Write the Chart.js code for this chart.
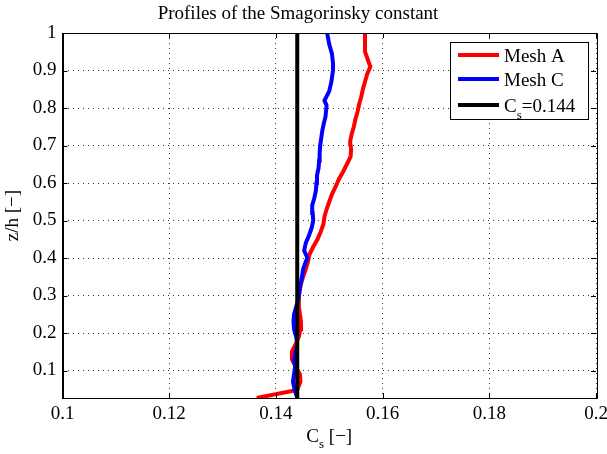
<!DOCTYPE html>
<html>
<head>
<meta charset="utf-8">
<script src="https://cdn.jsdelivr.net/npm/chart.js@4/dist/chart.umd.min.js"></script>
<style>
  html, body { margin: 0; padding: 0; background: #fff; }
  canvas { display: block; }
</style>
</head>
<body>
<canvas id="c" width="607" height="454"></canvas>
<script>
// ---- data ----
const zA = [0.027, 0.048, 0.07, 0.09, 0.11, 0.13, 0.15, 0.17, 0.19, 0.21, 0.23, 0.25, 0.27, 0.29, 0.31, 0.33, 0.35, 0.37, 0.39, 0.41, 0.43, 0.45, 0.47, 0.49, 0.51, 0.53, 0.55, 0.57, 0.59, 0.61, 0.63, 0.65, 0.67, 0.69, 0.71, 0.73, 0.75, 0.77, 0.79, 0.81, 0.83, 0.85, 0.87, 0.89, 0.91, 0.93, 0.95, 0.97, 1.0];
const csA = [0.1364, 0.1440, 0.1446, 0.1445, 0.1437, 0.1430, 0.1430, 0.1437, 0.1443, 0.1446, 0.1447, 0.1445, 0.1443, 0.1443, 0.1444, 0.1447, 0.1451, 0.1456, 0.1460, 0.1463, 0.1470, 0.1478, 0.1484, 0.1489, 0.1491, 0.1495, 0.1500, 0.1505, 0.1512, 0.1518, 0.1526, 0.1533, 0.1540, 0.1541, 0.1539, 0.1542, 0.1546, 0.1549, 0.1553, 0.1556, 0.1560, 0.1563, 0.1567, 0.1571, 0.1577, 0.1572, 0.1567, 0.1567, 0.1567];
const zC = [0.027, 0.05, 0.07, 0.09, 0.11, 0.13, 0.15, 0.17, 0.19, 0.21, 0.23, 0.25, 0.27, 0.29, 0.31, 0.33, 0.35, 0.37, 0.39, 0.40, 0.42, 0.44, 0.46, 0.48, 0.50, 0.52, 0.54, 0.56, 0.58, 0.60, 0.62, 0.64, 0.66, 0.68, 0.70, 0.72, 0.74, 0.76, 0.777, 0.807, 0.82, 0.845, 0.87, 0.90, 0.92, 0.945, 0.97, 1.0];
const csC = [0.1440, 0.1435, 0.1432, 0.1434, 0.1436, 0.1434, 0.1437, 0.1440, 0.1438, 0.1434, 0.1433, 0.1434, 0.1438, 0.1442, 0.1444, 0.1446, 0.1449, 0.1451, 0.1456, 0.1459, 0.1453, 0.1456, 0.1462, 0.1467, 0.1470, 0.1469, 0.1468, 0.1472, 0.1475, 0.1476, 0.1477, 0.1480, 0.1481, 0.1482, 0.1483, 0.1485, 0.1487, 0.1490, 0.1493, 0.1495, 0.1491, 0.1500, 0.1504, 0.1507, 0.1507, 0.1505, 0.1500, 0.1496];
const csRef = 0.144;
const zRefEnds = [0.0267, 1.0];
const xTicks = [0.1, 0.12, 0.14, 0.16, 0.18, 0.2];
const yTicks = [0.1, 0.2, 0.3, 0.4, 0.5, 0.6, 0.7, 0.8, 0.9, 1.0];
const xRange = [0.1, 0.2];
const yRange = [0.0267, 1.0];
const seriesNames = ['Mesh A', 'Mesh C'];
const refName = ['C', 's', '=0.144'];
const titleText = 'Profiles of the Smagorinsky constant';
const yTitle = 'z/h [\u2212]';
const xTitle = ['C', 's', ' [\u2212]'];

const FONT = '"Liberation Serif", "Times New Roman", serif';

const frame = {
  id: 'frame',
  afterDraw(chart) {
    const ctx = chart.ctx;
    const a = chart.chartArea;
    const xs = chart.scales.x, ys = chart.scales.y;
    ctx.save();
    // box
    ctx.strokeStyle = '#000';
    ctx.lineWidth = 1;
    ctx.beginPath();
    ctx.rect(Math.round(a.left) + 0.5, Math.round(a.top) + 0.5, Math.round(a.right - a.left), Math.round(a.bottom - a.top));
    ctx.stroke();
    // inward ticks
    const tl = 5;
    ctx.beginPath();
    xTicks.forEach(v => {
      const px = Math.round(xs.getPixelForValue(v)) + 0.5;
      ctx.moveTo(px, a.bottom); ctx.lineTo(px, a.bottom - tl);
      ctx.moveTo(px, a.top); ctx.lineTo(px, a.top + tl);
    });
    yTicks.forEach(v => {
      const py = Math.round(ys.getPixelForValue(v)) + 0.5;
      ctx.moveTo(a.left, py); ctx.lineTo(a.left + tl, py);
      ctx.moveTo(a.right, py); ctx.lineTo(a.right - tl, py);
    });
    ctx.stroke();

    // x-axis title with subscript
    ctx.fillStyle = '#000';
    ctx.textBaseline = 'alphabetic';
    const big = '19px ' + FONT, small = '13px ' + FONT;
    ctx.font = big; const w1 = ctx.measureText(xTitle[0]).width;
    ctx.font = small; const w2 = ctx.measureText(xTitle[1]).width;
    ctx.font = big; const w3 = ctx.measureText(xTitle[2]).width;
    let x0 = (a.left + a.right) / 2 - (w1 + w2 + w3) / 2;
    const by = 442;
    ctx.font = big; ctx.fillText(xTitle[0], x0, by);
    ctx.font = small; ctx.fillText(xTitle[1], x0 + w1, by + 6);
    ctx.font = big; ctx.fillText(xTitle[2], x0 + w1 + w2, by);

    // legend
    const L = 450, T = 42, R = 588, B = 119;
    ctx.fillStyle = '#fff';
    ctx.fillRect(L, T, R - L, B - T);
    ctx.strokeStyle = '#000';
    ctx.lineWidth = 1;
    ctx.strokeRect(L + 0.5, T + 0.5, R - L, B - T);
    const rows = [
      { color: chart.data.datasets[2].borderColor, y: 55, parts: [seriesNames[0]] },
      { color: chart.data.datasets[1].borderColor, y: 79, parts: [seriesNames[1]] },
      { color: chart.data.datasets[0].borderColor, y: 105, parts: refName }
    ];
    rows.forEach(r => {
      ctx.strokeStyle = r.color;
      ctx.lineWidth = 4;
      ctx.beginPath();
      ctx.moveTo(458, r.y); ctx.lineTo(499, r.y);
      ctx.stroke();
      ctx.fillStyle = '#000';
      ctx.textBaseline = 'alphabetic';
      let tx = 504;
      const base = r.y + 6.5;
      if (r.parts.length === 1) {
        ctx.font = big; ctx.fillText(r.parts[0], tx, base);
      } else {
        ctx.font = big; ctx.fillText(r.parts[0], tx, base);
        tx += ctx.measureText(r.parts[0]).width;
        ctx.font = small; ctx.fillText(r.parts[1], tx, base + 7);
        tx += ctx.measureText(r.parts[1]).width;
        ctx.font = big; ctx.fillText(r.parts[2], tx, base);
      }
    });
    ctx.restore();
  }
};

new Chart(document.getElementById('c'), {
  type: 'scatter',
  data: {
    datasets: [
      {
        label: refName.join(''),
        data: zRefEnds.map(z => ({ x: csRef, y: z })),
        borderColor: '#000000',
        borderWidth: 4,
        showLine: true,
        pointRadius: 0,
        order: 0
      },
      {
        label: seriesNames[1],
        data: zC.map((z, i) => ({ x: csC[i], y: z })),
        borderColor: '#0000ff',
        borderWidth: 4,
        showLine: true,
        pointRadius: 0,
        order: 1
      },
      {
        label: seriesNames[0],
        data: zA.map((z, i) => ({ x: csA[i], y: z })),
        borderColor: '#ff0000',
        borderWidth: 4,
        showLine: true,
        pointRadius: 0,
        order: 2
      }
    ]
  },
  options: {
    responsive: false,
    devicePixelRatio: 1,
    animation: false,
    layout: { padding: { left: 0, right: 11, top: 0, bottom: 0 } },
    plugins: {
      legend: { display: false },
      tooltip: { enabled: false },
      title: {
        display: true,
        text: titleText,
        color: '#000',
        font: { family: FONT, size: 19, weight: 'normal', lineHeight: 1.2 },
        padding: { top: 3, bottom: 7.2 }
      }
    },
    scales: {
      x: {
        type: 'linear',
        min: xRange[0], max: xRange[1],
        afterBuildTicks: s => { s.ticks = xTicks.map(v => ({ value: v })); },
        afterFit: s => { s.height = 56; s.paddingLeft = 0; s.paddingRight = 0; },
        ticks: {
          color: '#000',
          font: { family: FONT, size: 19 },
          padding: 5,
          maxRotation: 0,
          autoSkip: false,
          callback: v => String(+v.toFixed(2))
        },
        grid: { color: '#333', lineWidth: 1, drawTicks: false },
        border: { display: true, color: '#000', dash: [1, 4] }
      },
      y: {
        type: 'linear',
        min: yRange[0], max: yRange[1],
        afterBuildTicks: s => { s.ticks = yTicks.map(v => ({ value: v })); },
        afterFit: s => { s.width = 62.5; s.paddingTop = 0; s.paddingBottom = 0; },
        ticks: {
          color: '#000',
          font: { family: FONT, size: 19 },
          padding: 6,
          autoSkip: false,
          callback: v => String(+v.toFixed(1))
        },
        title: {
          display: true,
          text: yTitle,
          color: '#000',
          font: { family: FONT, size: 19 },
          padding: { top: 2, bottom: 0 }
        },
        grid: { color: '#333', lineWidth: 1, drawTicks: false },
        border: { display: true, color: '#000', dash: [1, 4] }
      }
    }
  },
  plugins: [frame]
});
</script>
</body>
</html>
